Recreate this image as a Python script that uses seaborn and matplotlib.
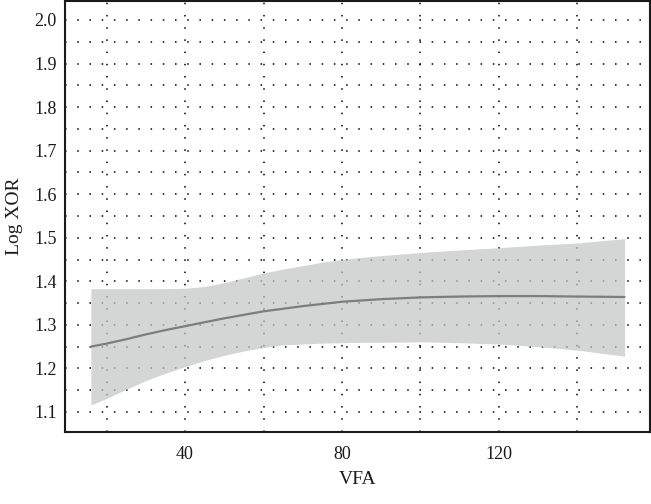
import matplotlib
matplotlib.use("Agg")
import matplotlib.pyplot as plt
import seaborn as sns
import numpy as np
import pandas as pd
from matplotlib.ticker import MultipleLocator

# Data
vfa = [16, 20, 25, 30, 35, 40, 45, 50, 55, 60, 65, 70, 75, 80, 85, 90,
       100, 110, 120, 130, 140, 152]
log_xor = [1.250, 1.257, 1.267, 1.278, 1.288, 1.297, 1.306, 1.315, 1.323,
           1.331, 1.337, 1.343, 1.348, 1.353, 1.356, 1.359,
           1.363, 1.365, 1.366, 1.366, 1.365, 1.364]
ci_upper = [1.383, 1.383, 1.383, 1.383, 1.383, 1.384, 1.388, 1.397, 1.408,
            1.419, 1.428, 1.436, 1.444, 1.450, 1.455, 1.459,
            1.466, 1.472, 1.477, 1.483, 1.488, 1.498]
ci_lower = [1.116, 1.131, 1.152, 1.172, 1.189, 1.204, 1.218, 1.230, 1.240,
            1.248, 1.254, 1.256, 1.258, 1.259, 1.260, 1.260,
            1.261, 1.259, 1.256, 1.250, 1.242, 1.228]

x_ticks = [40, 80, 120]
y_ticks = [1.1, 1.2, 1.3, 1.4, 1.5, 1.6, 1.7, 1.8, 1.9, 2.0]

df = pd.DataFrame({"VFA": vfa, "Log XOR": log_xor,
                   "lo": ci_lower, "hi": ci_upper})

sns.set_style("white")
plt.rcParams["font.family"] = ["Liberation Serif", "DejaVu Serif"]

fig = plt.figure(figsize=(6.51, 5.04), dpi=100)
ax = fig.add_axes([65 / 651, (504 - 432) / 504, (650 - 65) / 651, (432 - 1) / 504])

ax.fill_between(df["VFA"], df["lo"], df["hi"], color="#c4c5c6", alpha=0.72,
                linewidth=0, zorder=2)
sns.lineplot(data=df, x="VFA", y="Log XOR", ax=ax, color="#7d7d7d",
             linewidth=1.6, zorder=3)

ax.set_xlim(9.4, 158.5)
ax.set_ylim(1.054, 2.0435)
ax.set_xticks(x_ticks)
ax.set_yticks(y_ticks)
ax.set_yticklabels([f"{v:.1f}" for v in y_ticks])
ax.xaxis.set_minor_locator(MultipleLocator(20))
ax.yaxis.set_minor_locator(MultipleLocator(0.05))

ax.grid(which="both", color="black", linestyle=(0, (1, 7)), linewidth=1.1,
        zorder=1)
ax.set_axisbelow(True)

for s in ax.spines.values():
    s.set_color("#1a1a1a")
    s.set_linewidth(1.5)

ax.tick_params(which="major", direction="inout", length=4, width=1,
               labelsize=13, colors="#1a1a1a", pad=4)
ax.tick_params(axis="x", which="major", pad=8)
ax.tick_params(which="minor", direction="inout", length=3, width=0.8,
               colors="#1a1a1a")
ax.set_xlabel("VFA", fontsize=14, color="#1a1a1a", labelpad=6)
ax.set_ylabel("Log XOR", fontsize=14, color="#1a1a1a", labelpad=8)

fig.savefig("out.png", dpi=100)
